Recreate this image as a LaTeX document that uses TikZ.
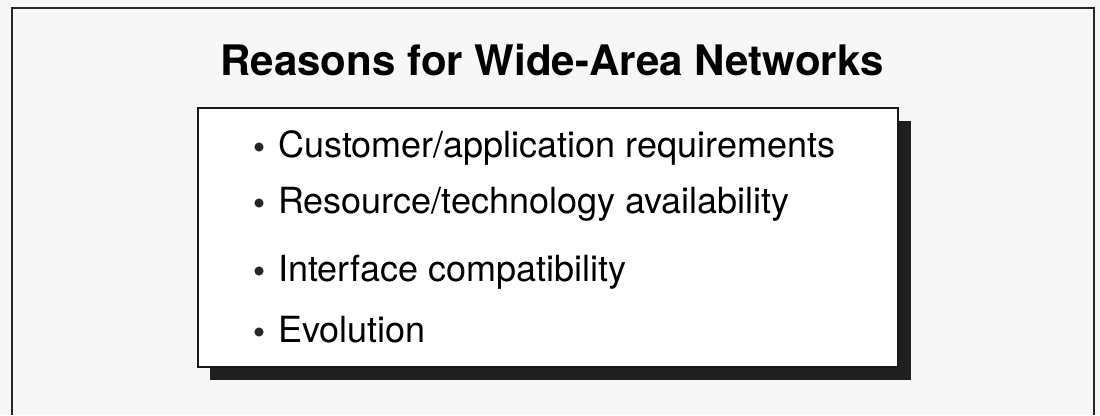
\documentclass[tikz,border=0pt]{standalone}
\usepackage{fontspec}
\setmainfont{TeX Gyre Heros}
\usepackage{tikz}
\usetikzlibrary{positioning, calc}

\begin{document}
\begin{tikzpicture}[
    x=0.025cm, y=-0.025cm,
    font=\fontsize{25.6}{29}\selectfont,
    itemtext/.style={anchor=base west, inner sep=0pt},
    dot/.style={circle, fill=black!85, inner sep=0pt, minimum size=6.5pt}
]

% Page area
\fill[black!3] (0,0) rectangle (1100,415);
\useasboundingbox (0,0) rectangle (1100,415);

% Outer frame (bottom edge runs off the page)
\draw[black!85, line width=1.1pt] (12,415) -- (12,8) -- (1094,8) -- (1094,415);

% Title
\node[anchor=base, inner sep=0pt, font=\fontsize{29.9}{34}\selectfont\bfseries] (title) at (552,75)
    {Reasons for Wide-Area Networks};

% Shadowed box
\fill[black!88] (210,121) rectangle (911,380);
\draw[draw=black!90, fill=white, line width=1.3pt] (198,108) rectangle (898,367);

% Items
\node[itemtext] (cust) at (278,157) {Customer/application requirements};
\node[itemtext] (res) at (278,213) {Resource/technology availability};
\node[itemtext] (intf) at (278,281) {Interface compatibility};
\node[itemtext] (evol) at (278,342) {Evolution};

\foreach \n in {cust, res, intf, evol}
    \node[dot] at ($(\n.base west)+(-19,-10)$) {};

\end{tikzpicture}
\end{document}
